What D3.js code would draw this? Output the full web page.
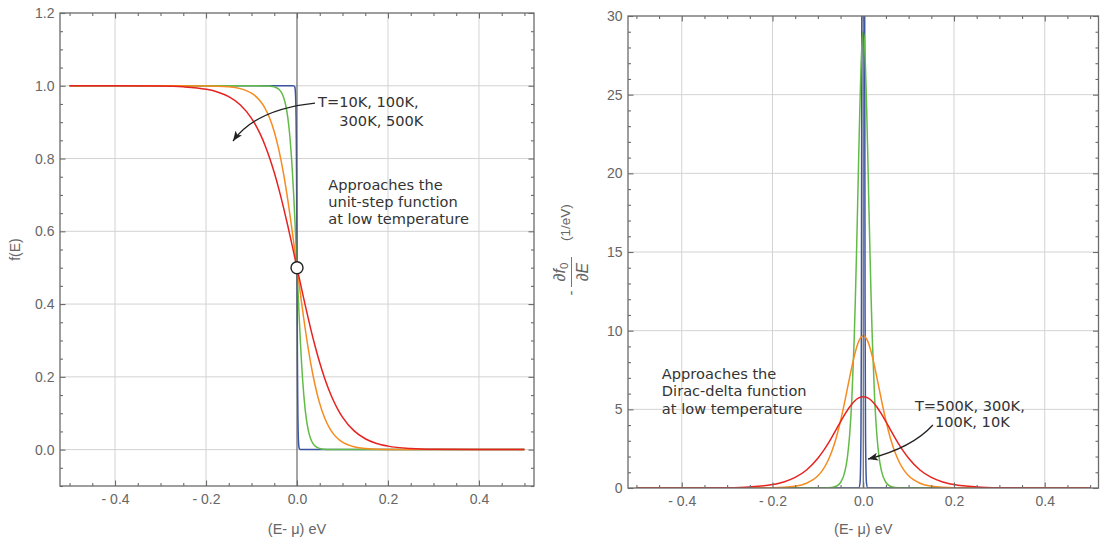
<!DOCTYPE html>
<html><head><meta charset="utf-8">
<script src="https://cdn.jsdelivr.net/npm/d3@7"></script>
<style>body{margin:0;background:#fff;} svg{display:block}</style>
</head><body><svg id="c" width="1100" height="540"></svg>
<script>
// ---------------- DATA ----------------
const temperatures = ["10K", "100K", "300K", "500K"];
const seriesColors = ["#3b55a3", "#62bb46", "#f68b1f", "#e62320"];

// energy samples (eV) per temperature
const energy10K = [-0.5,-0.01,-0.007,-0.005,-0.004,-0.003,-0.0025,-0.002,-0.0015,-0.001,-0.0005,0,0.0005,0.001,0.0015,0.002,0.0025,0.003,0.004,0.005,0.007,0.01,0.5];
const energy100K = [-0.5,-0.1,-0.07,-0.06,-0.05,-0.04,-0.035,-0.03,-0.025,-0.02,-0.0175,-0.015,-0.0125,-0.01,-0.0075,-0.005,-0.0025,0,0.0025,0.005,0.0075,0.01,0.0125,0.015,0.0175,0.02,0.025,0.03,0.035,0.04,0.05,0.06,0.07,0.1,0.5];
const energy300K = [-0.5,-0.3,-0.2,-0.15,-0.125,-0.1,-0.09,-0.08,-0.07,-0.06,-0.05,-0.04,-0.03,-0.02,-0.015,-0.01,-0.005,0,0.005,0.01,0.015,0.02,0.03,0.04,0.05,0.06,0.07,0.08,0.09,0.1,0.125,0.15,0.2,0.3,0.5];
const energy500K = [-0.5,-0.4,-0.3,-0.25,-0.2,-0.175,-0.15,-0.125,-0.1,-0.09,-0.08,-0.07,-0.06,-0.05,-0.04,-0.03,-0.02,-0.01,0,0.01,0.02,0.03,0.04,0.05,0.06,0.07,0.08,0.09,0.1,0.125,0.15,0.175,0.2,0.25,0.3,0.4,0.5];

// occupation f(E)
const f10K = [1.0000,1.0000,0.9997,0.9970,0.9904,0.9701,0.9478,0.9105,0.8507,0.7613,0.6411,0.5000,0.3589,0.2387,0.1493,0.0895,0.0522,0.0299,0.0096,0.0030,0.0003,0.0000,0.0000];
const f100K = [1.0000,1.0000,0.9997,0.9991,0.9970,0.9904,0.9830,0.9701,0.9478,0.9105,0.8839,0.8507,0.8100,0.7613,0.7048,0.6411,0.5720,0.5000,0.4280,0.3589,0.2952,0.2387,0.1900,0.1493,0.1161,0.0895,0.0522,0.0299,0.0170,0.0096,0.0030,0.0009,0.0003,0.0000,0.0000];
const f300K = [1.0000,1.0000,0.9996,0.9970,0.9921,0.9795,0.9702,0.9567,0.9375,0.9106,0.8737,0.8245,0.7614,0.6843,0.6411,0.5955,0.5482,0.5000,0.4518,0.4045,0.3589,0.3157,0.2386,0.1755,0.1263,0.0894,0.0625,0.0433,0.0298,0.0205,0.0079,0.0030,0.0004,0.0000,0.0000];
const f500K = [1.0000,0.9999,0.9991,0.9970,0.9904,0.9831,0.9701,0.9479,0.9106,0.8898,0.8649,0.8354,0.8010,0.7614,0.7167,0.6673,0.6140,0.5577,0.5000,0.4423,0.3860,0.3327,0.2833,0.2386,0.1990,0.1646,0.1351,0.1102,0.0894,0.0521,0.0299,0.0169,0.0096,0.0030,0.0009,0.0001,0.0000];

// -df/dE (1/eV)
const d10K = [0.00,0.00,0.35,3.49,11.0,33.7,57.4,94.5,147.3,210.8,266.9,290.1,266.9,210.8,147.3,94.5,57.4,33.7,11.0,3.49,0.35,0.00,0.00];
const d100K = [0.000,0.000,0.035,0.110,0.349,1.099,1.934,3.365,5.740,9.450,11.91,14.73,17.85,21.08,24.14,26.69,28.40,29.00,28.40,26.69,24.14,21.08,17.85,14.73,11.91,9.450,5.740,3.365,1.934,1.099,0.349,0.110,0.035,0.000,0.000];
const d300K = [0.000,0.000,0.017,0.116,0.303,0.777,1.120,1.603,2.267,3.149,4.268,5.598,7.028,8.357,8.901,9.319,9.582,9.671,9.582,9.319,8.901,8.357,7.028,5.598,4.268,3.149,2.267,1.603,1.120,0.777,0.303,0.116,0.017,0.000,0.000];
const d500K = [0.000,0.002,0.022,0.070,0.220,0.386,0.673,1.146,1.889,2.276,2.711,3.191,3.699,4.216,4.712,5.152,5.500,5.725,5.802,5.725,5.500,5.152,4.712,4.216,3.699,3.191,2.711,2.276,1.889,1.146,0.673,0.386,0.220,0.070,0.022,0.002,0.000];

// ticks
const xTickValues = [-0.4, -0.2, 0, 0.2, 0.4];
const xTickLabels = ["- 0.4", "- 0.2", "0.0", "0.2", "0.4"];
const leftYTickValues = [0, 0.2, 0.4, 0.6, 0.8, 1.0, 1.2];
const leftYTickLabels = ["0.0", "0.2", "0.4", "0.6", "0.8", "1.0", "1.2"];
const rightYTickValues = [0, 5, 10, 15, 20, 25, 30];
const rightYTickLabels = ["0", "5", "10", "15", "20", "25", "30"];

// ---------------- DRAW ----------------
const svg = d3.select("#c");
const defs = svg.append("defs");
defs.append("marker").attr("id", "ah").attr("markerUnits", "userSpaceOnUse")
  .attr("markerWidth", 12).attr("markerHeight", 10).attr("refX", 10).attr("refY", 4)
  .attr("orient", "auto")
  .append("path").attr("d", "M0,0 L10,4 L0,8 L2.5,4 Z").attr("fill", "#222");

const TICKFONT = "'Liberation Sans', Arial, sans-serif";
const NOTEFONT = "'DejaVu Sans', Verdana, sans-serif";
const FRAME = "#6b6b6b";

function minorTicks(lo, hi, step, majors) {
  const out = [];
  for (let v = Math.ceil(lo / step - 1e-9) * step; v <= hi + 1e-9; v += step) {
    const r = Math.round(v / step) * step;
    if (!majors.some(m => Math.abs(m - r) < 1e-9)) out.push(+r.toFixed(6));
  }
  return out;
}

function panel(id, cfg) {
  const g = svg.append("g");
  const x = d3.scaleLinear().domain(cfg.xDomain).range([cfg.left, cfg.right]);
  const y = d3.scaleLinear().domain(cfg.yDomain).range([cfg.bottom, cfg.top]);

  defs.append("clipPath").attr("id", "clip" + id).append("rect")
    .attr("x", cfg.left).attr("y", cfg.top).attr("width", cfg.right - cfg.left).attr("height", cfg.bottom - cfg.top);

  // grid
  g.append("g").selectAll("line").data(cfg.xGrid).join("line")
    .attr("x1", d => x(d)).attr("x2", d => x(d)).attr("y1", cfg.top).attr("y2", cfg.bottom)
    .attr("stroke", "#d3d3d3").attr("stroke-width", 1);
  g.append("g").selectAll("line").data(cfg.yGrid).join("line")
    .attr("y1", d => y(d)).attr("y2", d => y(d)).attr("x1", cfg.left).attr("x2", cfg.right)
    .attr("stroke", "#d3d3d3").attr("stroke-width", 1);

  // curves
  const line = d3.line().x(d => x(d[0])).y(d => y(d[1])).curve(d3.curveMonotoneX);
  const cg = g.append("g").attr("clip-path", `url(#clip${id})`);
  cfg.series.forEach((s, i) => {
    cg.append("path").datum(s.e.map((e, k) => [e, s.v[k]]))
      .attr("d", line).attr("fill", "none").attr("stroke", seriesColors[i]).attr("stroke-width", 1.5);
  });

  // axis at E = 0
  g.append("line").attr("x1", x(0)).attr("x2", x(0)).attr("y1", cfg.top).attr("y2", cfg.bottom)
    .attr("stroke", "#5a5a5a").attr("stroke-width", 1.1);

  // frame
  g.append("rect").attr("x", cfg.left).attr("y", cfg.top)
    .attr("width", cfg.right - cfg.left).attr("height", cfg.bottom - cfg.top)
    .attr("fill", "none").attr("stroke", FRAME).attr("stroke-width", 1.3);

  const xMinor = minorTicks(cfg.xDomain[0], cfg.xDomain[1], 0.05, xTickValues);
  const yMinor = minorTicks(cfg.yDomain[0], cfg.yDomain[1], cfg.yMinorStep, cfg.yTicks);

  function style(sel) {
    sel.select(".domain").remove();
    sel.selectAll(".tick line").attr("stroke", FRAME).attr("stroke-width", 1.1);
    sel.selectAll(".tick text").attr("fill", "#666").attr("font-family", TICKFONT).attr("font-size", 14);
    return sel;
  }
  style(g.append("g").attr("transform", `translate(0,${cfg.bottom})`)
    .call(d3.axisBottom(x).tickValues(xTickValues).tickSize(-5.5).tickPadding(8).tickFormat((d, i) => xTickLabels[i])));
  style(g.append("g").attr("transform", `translate(0,${cfg.bottom})`)
    .call(d3.axisBottom(x).tickValues(xMinor).tickSize(-3).tickFormat("")));
  style(g.append("g").attr("transform", `translate(0,${cfg.top})`)
    .call(d3.axisTop(x).tickValues(xTickValues).tickSize(-5.5).tickFormat("")));
  style(g.append("g").attr("transform", `translate(0,${cfg.top})`)
    .call(d3.axisTop(x).tickValues(xMinor).tickSize(-3).tickFormat("")));
  style(g.append("g").attr("transform", `translate(${cfg.left},0)`)
    .call(d3.axisLeft(y).tickValues(cfg.yTicks).tickSize(-5.5).tickPadding(5.5).tickFormat((d, i) => cfg.yLabels[i])));
  style(g.append("g").attr("transform", `translate(${cfg.left},0)`)
    .call(d3.axisLeft(y).tickValues(yMinor).tickSize(-3).tickFormat("")));
  style(g.append("g").attr("transform", `translate(${cfg.right},0)`)
    .call(d3.axisRight(y).tickValues(cfg.yTicks).tickSize(-5.5).tickFormat("")));
  style(g.append("g").attr("transform", `translate(${cfg.right},0)`)
    .call(d3.axisRight(y).tickValues(yMinor).tickSize(-3).tickFormat("")));

  // x title
  g.append("text").attr("x", x(0)).attr("y", 534).attr("text-anchor", "middle")
    .attr("fill", "#666").attr("font-family", TICKFONT).attr("font-size", 14.5).text("(E- μ) eV");

  return { g, x, y };
}

// LEFT PANEL
const L = panel("L", {
  left: 60, right: 534, top: 13, bottom: 486,
  xDomain: [-0.521, 0.521], yDomain: [-0.1, 1.2],
  xGrid: [-0.4, -0.2, 0.2, 0.4], yGrid: [0, 0.2, 0.4, 0.6, 0.8, 1.0],
  yTicks: leftYTickValues, yLabels: leftYTickLabels, yMinorStep: 0.05,
  series: [
    { e: energy10K, v: f10K }, { e: energy100K, v: f100K },
    { e: energy300K, v: f300K }, { e: energy500K, v: f500K }
  ]
});

// RIGHT PANEL
const R = panel("R", {
  left: 628, right: 1098.5, top: 16, bottom: 488,
  xDomain: [-0.5185, 0.5185], yDomain: [0, 30],
  xGrid: [-0.4, -0.2, 0.2, 0.4], yGrid: [5, 10, 15, 20, 25],
  yTicks: rightYTickValues, yLabels: rightYTickLabels, yMinorStep: 1,
  series: [
    { e: energy10K, v: d10K }, { e: energy100K, v: d100K },
    { e: energy300K, v: d300K }, { e: energy500K, v: d500K }
  ]
});

// circle marker at f = 1/2
L.g.append("circle").attr("cx", L.x(0)).attr("cy", L.y(0.5)).attr("r", 6)
  .attr("fill", "#fff").attr("stroke", "#222").attr("stroke-width", 1.4);

// y labels
svg.append("text").attr("transform", `translate(20,${L.y(0.55)}) rotate(-90)`)
  .attr("text-anchor", "middle").attr("fill", "#666").attr("font-family", TICKFONT).attr("font-size", 14).text("f(E)");

const yl = svg.append("g").attr("transform", "translate(571,293) rotate(-90)")
  .attr("fill", "#666").attr("font-family", TICKFONT);
yl.append("text").attr("x", 0).attr("y", 4.5).attr("text-anchor", "middle").attr("font-size", 15).text("-");
yl.append("line").attr("x1", 6).attr("x2", 36).attr("y1", 0.5).attr("y2", 0.5).attr("stroke", "#777").attr("stroke-width", 1);
const num = yl.append("text").attr("x", 21).attr("y", -6).attr("text-anchor", "middle").attr("font-size", 16);
num.append("tspan").text("∂");
num.append("tspan").attr("font-style", "italic").text("f");
num.append("tspan").attr("font-size", 11.5).attr("dy", 3).text("0");
const den = yl.append("text").attr("x", 21).attr("y", 17).attr("text-anchor", "middle").attr("font-size", 16);
den.append("tspan").text("∂");
den.append("tspan").attr("font-style", "italic").text("E");
yl.append("text").attr("x", 52).attr("y", -1.5).attr("font-size", 13.5).text("(1/eV)");

// annotations
function note(P, lines, ex, ey, dyPx) {
  const t = svg.append("text").attr("font-family", NOTEFONT).attr("font-size", 14.6).attr("fill", "#333");
  lines.forEach((s, i) => t.append("tspan").attr("x", P.x(ex[i])).attr("y", P.y(ey) + i * dyPx).text(s));
}
function arrow(P, pts) {
  const [a, c, b] = pts;
  svg.append("path")
    .attr("d", `M${P.x(a[0])},${P.y(a[1])} Q${P.x(c[0])},${P.y(c[1])} ${P.x(b[0])},${P.y(b[1])}`)
    .attr("fill", "none").attr("stroke", "#222").attr("stroke-width", 1.3).attr("marker-end", "url(#ah)");
}

note(L, ["T=10K, 100K,", "300K, 500K"], [0.0462, 0.093], 0.9406, 18.4);
note(L, ["Approaches the", "unit-step function", "at low temperature"], [0.0688, 0.0688, 0.0688], 0.7135, 17.2);
arrow(L, [[0.0396, 0.9525], [-0.0901, 0.936], [-0.1407, 0.848]]);

note(R, ["Approaches the", "Dirac-delta function", "at low temperature"], [-0.4439, -0.4439, -0.4439], 6.91, 17.2);
note(R, ["T=500K, 300K,", "100K, 10K"], [0.1138, 0.1579], 4.895, 16.4);
arrow(R, [[0.1535, 4.005], [0.1072, 2.54], [0.0104, 1.84]]);
</script></body></html>
